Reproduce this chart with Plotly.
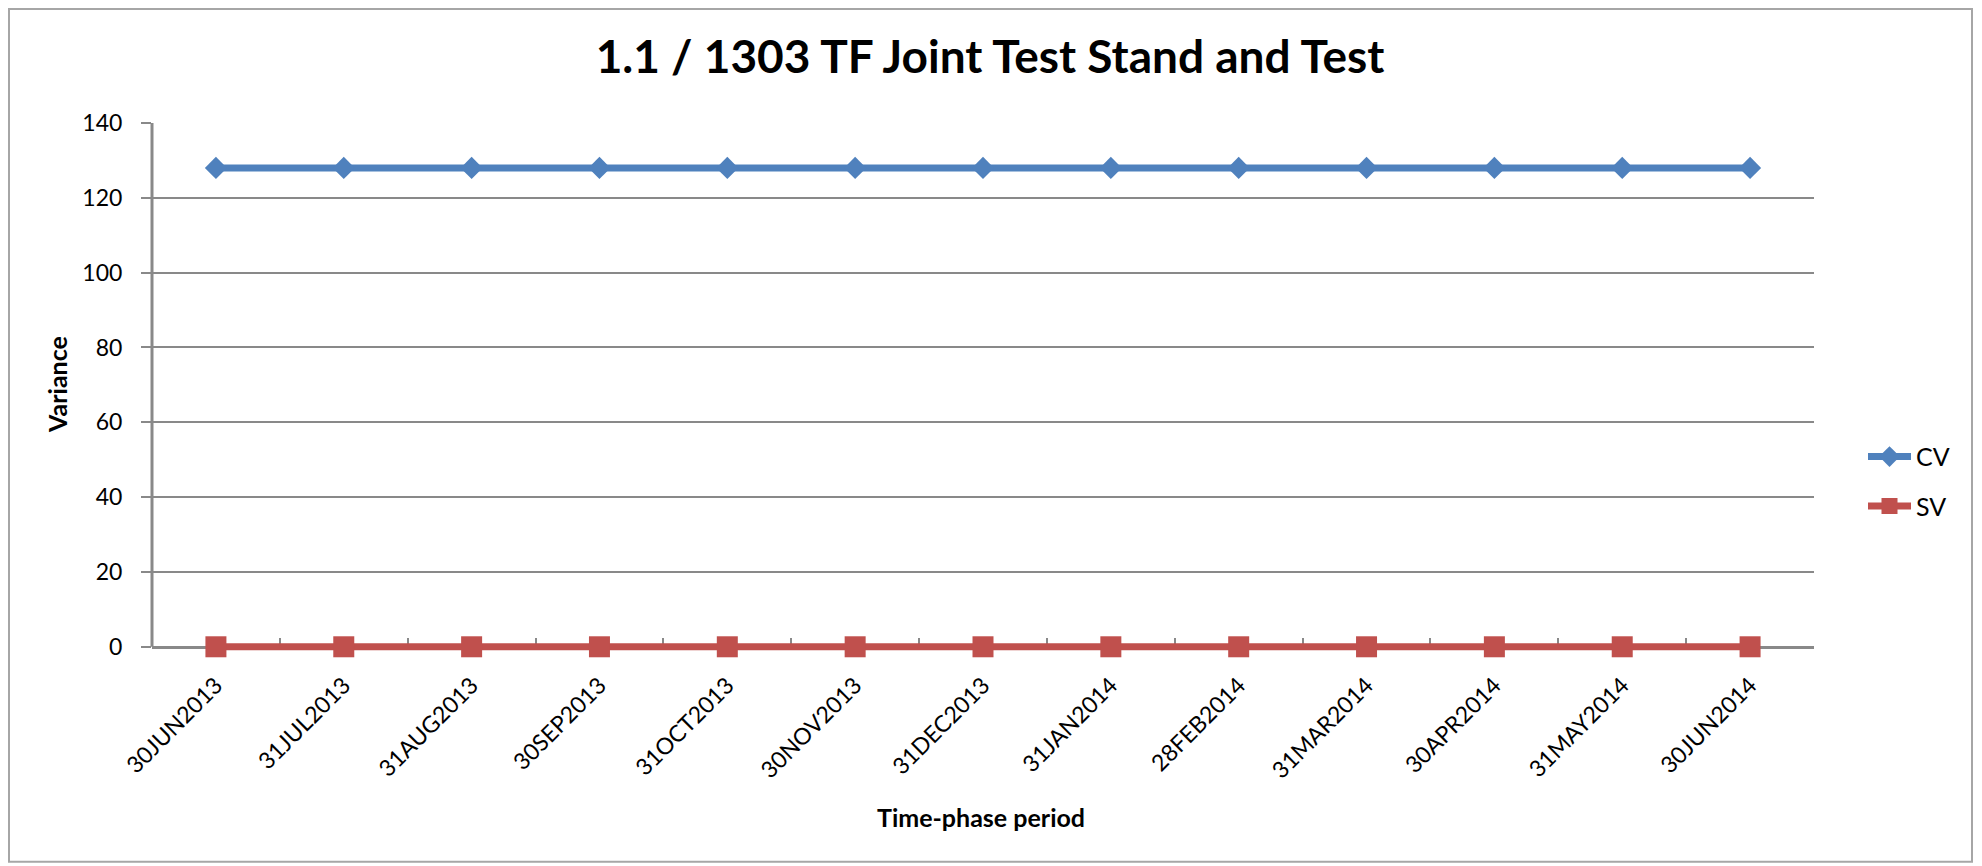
import plotly.graph_objects as go

categories = ["30JUN2013", "31JUL2013", "31AUG2013", "30SEP2013", "31OCT2013", "30NOV2013",
              "31DEC2013", "31JAN2014", "28FEB2014", "31MAR2014", "30APR2014", "31MAY2014", "30JUN2014"]
cv_values = [128] * 13
sv_values = [0] * 13
y_ticks = [0, 20, 40, 60, 80, 100, 120, 140]
y_min, y_max = -3, 140

# page has an 8px body margin; figure sized/positioned to compensate
OFF = 8
W, H = 1982 - OFF, 866 - OFF
ML = 152 - OFF
MT = 123 - OFF
MR = 1982 - 1814
px_per_unit = (647 - 123) / 140.0
bottom_page = 647 + (0 - y_min) * px_per_unit
MB = 866 - bottom_page
PW = W - ML - MR
PH = H - MT - MB

FONT = "Lato"
GRID = "#898989"


def px(xf):  # figure px -> paper x
    return (xf - ML) / PW


def py(yf):  # figure px (from top) -> paper y
    return 1 - (yf - MT) / PH


fig = go.Figure()
fig.add_trace(go.Scatter(x=categories, y=cv_values, name="CV", legendgroup="cv", mode="lines+markers",
                         line=dict(color="#4F81BD", width=7), cliponaxis=False,
                         marker=dict(symbol="diamond", size=17, color="#4F81BD")))
fig.add_trace(go.Scatter(x=categories, y=sv_values, name="SV", legendgroup="sv", mode="lines+markers",
                         line=dict(color="#C0504D", width=7), cliponaxis=False,
                         marker=dict(symbol="square", size=21, color="#C0504D")))

# outer chart border
fig.add_shape(type="rect", xref="paper", yref="paper",
              x0=px(1), x1=px(1972 - OFF), y0=py(862 - OFF), y1=py(1),
              line=dict(color="#A6A6A6", width=2), layer="below")
# y axis line from 0 to 140
fig.add_shape(type="line", xref="paper", yref="y", x0=0, x1=0, y0=0, y1=y_max,
              line=dict(color=GRID, width=3), layer="below")

fig.add_annotation(text="<b>Variance</b>", xref="paper", yref="paper", x=px(57 - OFF), y=py(385 - OFF),
                   textangle=-90, showarrow=False, xanchor="center", yanchor="middle",
                   font=dict(size=25, family=FONT, color="black"))
fig.add_annotation(text="<b>Time-phase period</b>", xref="paper", yref="paper", x=px(981 - OFF),
                   y=py(817 - OFF), showarrow=False, xanchor="center", yanchor="middle",
                   font=dict(size=25, family=FONT, color="black"))

fig.update_layout(
    width=W, height=H,
    margin=dict(l=ML, r=MR, t=MT, b=MB, autoexpand=False),
    paper_bgcolor="white", plot_bgcolor="white",
    font=dict(family=FONT, color="black"),
    title=dict(text="<b>1.1 / 1303 TF Joint Test Stand and Test</b>", x=(990 - OFF) / W, xanchor="center",
               y=1 - (57 - OFF) / H, yanchor="middle", font=dict(size=46, family=FONT, color="black")),
    showlegend=True,
    legend=dict(x=px(1855), y=py(426), xanchor="left", yanchor="top",
                font=dict(size=25, family=FONT), bgcolor="rgba(0,0,0,0)",
                traceorder="grouped", tracegroupgap=14, itemwidth=43),
)
fig.update_xaxes(type="category", range=[-0.5, len(categories) - 0.5],
                 anchor="free", position=(0 - y_min) / (y_max - y_min), layer="below traces",
                 tickson="boundaries", ticks="inside", ticklen=8, tickcolor=GRID, tickwidth=2,
                 showline=True, linecolor=GRID, linewidth=3, showgrid=False,
                 tickangle=-45, tickfont=dict(size=23, family=FONT), ticklabelstandoff=14)
fig.update_yaxes(range=[y_min, y_max], tickvals=y_ticks, ticks="outside", ticklen=10, tickcolor=GRID,
                 tickwidth=2, showline=False, layer="below traces",
                 showgrid=True, gridcolor=GRID, gridwidth=2, zeroline=False,
                 tickfont=dict(size=23, family=FONT), ticklabelstandoff=14)

fig.write_html("out.html")
